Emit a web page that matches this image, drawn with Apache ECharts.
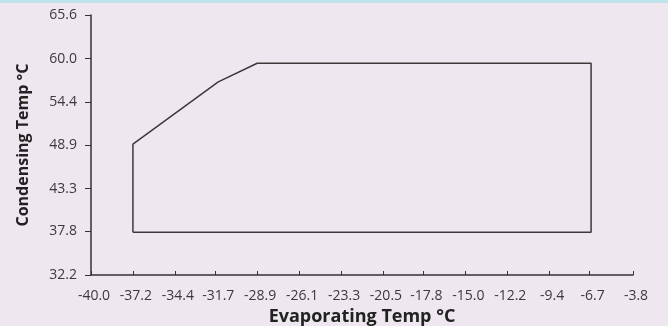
<!DOCTYPE html>
<html>
<head>
<meta charset="utf-8">
<script src="https://cdn.jsdelivr.net/npm/echarts@6/dist/echarts.min.js"></script>
<style>
  html, body { margin: 0; padding: 0; }
  body { background: linear-gradient(#bfe3ea 0, #bfe3ea 3px, #efe7ef 3px); }
  #chart { width: 668px; height: 326px; }
</style>
</head>
<body>
<div id="chart"></div>
<script>
// tick labels (deg C, converted from a F grid)
var xTicks = [-40.0, -37.2, -34.4, -31.7, -28.9, -26.1, -23.3, -20.5, -17.8, -15.0, -12.2, -9.4, -6.7, -3.8]
var yTicks = [32.2, 37.8, 43.3, 48.9, 54.4, 60.0, 65.6]

// operating envelope outline, closed
var evapTemp = [-37.2, -37.2, -31.5, -28.9, -6.6, -6.6, -37.2]
var condTemp = [37.7, 49.0, 57.0, 59.4, 59.4, 37.7, 37.7]

var chart = echarts.init(document.getElementById('chart'))
var font = 'Open Sans'
var fmt = function (v) { return Number(v).toFixed(1) }

chart.setOption({
  backgroundColor: 'transparent',
  animation: false,
  grid: { left: 91, right: 35, top: 15, bottom: 51, containLabel: false, outerBoundsMode: 'none' },
  xAxis: {
    type: 'value',
    min: xTicks[0],
    max: xTicks[xTicks.length - 1],
    name: 'Evaporating Temp °C',
    nameLocation: 'middle',
    nameGap: 32,
    nameTextStyle: { fontFamily: font, fontWeight: 'bold', fontSize: 18, color: '#222' },
    axisLine: { lineStyle: { color: '#333', width: 1.5 } },
    axisTick: { inside: true, length: 4, customValues: xTicks, lineStyle: { color: '#333' } },
    axisLabel: { customValues: xTicks, formatter: fmt, margin: 14, padding: [0, 0, 0, 6], fontFamily: font, fontSize: 14, color: '#3a3a3a' },
    splitLine: { show: false }
  },
  yAxis: {
    type: 'value',
    min: yTicks[0],
    max: yTicks[yTicks.length - 1],
    name: 'Condensing Temp °C',
    nameLocation: 'middle',
    nameGap: 60,
    nameTextStyle: { fontFamily: font, fontWeight: 'bold', fontSize: 16, color: '#222' },
    axisLine: { show: true, lineStyle: { color: '#333', width: 1.5 } },
    axisTick: { show: true, length: 6, customValues: yTicks, lineStyle: { color: '#333' } },
    axisLabel: { customValues: yTicks, formatter: fmt, margin: 14, fontFamily: font, fontSize: 14, color: '#3a3a3a' },
    splitLine: { show: false }
  },
  series: [{
    type: 'line',
    data: evapTemp.map(function (x, i) { return [x, condTemp[i]] }),
    symbol: 'none',
    lineStyle: { color: '#3a3a3a', width: 1.5 }
  }]
})
</script>
</body>
</html>
